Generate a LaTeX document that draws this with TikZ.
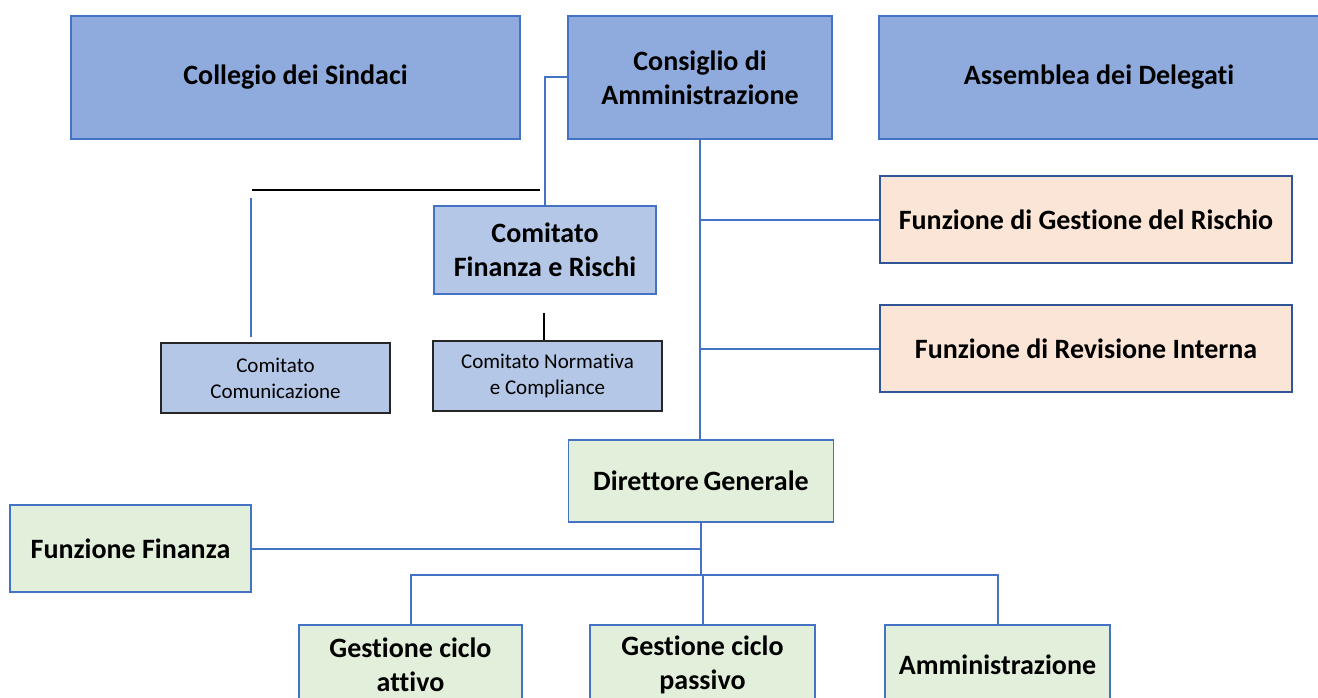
\documentclass[tikz,border=0pt]{standalone}
\usepackage{fontspec}
\setmainfont{Carlito}[Ligatures=NoCommon]
\usetikzlibrary{calc,positioning}
\definecolor{boardblue}{HTML}{8FAADC}
\definecolor{committee}{HTML}{B4C7E7}
\definecolor{control}{HTML}{FBE5D6}
\definecolor{staff}{HTML}{E2EFDA}
\definecolor{edgeblue}{HTML}{4472C4}
\definecolor{darkedge}{HTML}{2F5597}

\tikzset{
  box/.style={draw=edgeblue,line width=1.5pt,inner sep=0pt,align=center,
    font=\fontsize{28}{34}\selectfont\bfseries},
  board/.style={box,fill=boardblue,minimum height=123pt},
  comm/.style={box,fill=committee,minimum width=222pt,minimum height=88pt},
  subcomm/.style={box,draw=black!85,fill=committee,minimum width=229pt,minimum height=70pt,
    font=\fontsize{21}{26}\selectfont},
  ctrl/.style={box,draw=darkedge,fill=control,minimum width=412pt,minimum height=87pt},
  unit/.style={box,fill=staff,minimum height=82pt},
  link/.style={edgeblue,line width=2pt},
  tie/.style={black,line width=1.5pt}
}

\begin{document}
\begin{tikzpicture}[x=1pt,y=-1pt]
\clip (0,0) rectangle (1318,698);
\fill[white] (0,0) rectangle (1318,698);
% top row
\node[board,minimum width=449pt] (cds) at (295.5,77.5) {Collegio dei Sindaci};
\node[board,minimum width=264pt] (cda) at (700,77.5) {Consiglio di\\Amministrazione};
\node[board,minimum width=440pt] (add) at (1099,77.5) {Assemblea dei Delegati};
% committees
\node[comm] (cfr) at (545,250) {Comitato\\Finanza e Rischi};
\node[subcomm] (ccom) at (275.5,378) {Comitato\\Comunicazione};
\node[subcomm] (cnc) at (547.5,376) {Comitato Normativa\\e Compliance};
% control functions
\node[ctrl] (rischio) at (1086,219.5) {Funzione di Gestione del Rischio};
\node[ctrl] (revint) at (1086,348.5) {Funzione di Revisione Interna};
% operating units
\node[unit,minimum width=265pt] (dg) at (701,481) {Direttore\,Generale};
\node[unit,minimum width=241pt,minimum height=87pt] (ff) at (130.5,548.5) {Funzione Finanza};
\node[unit,minimum width=223pt,minimum height=80pt] (gca) at (410.5,665) {Gestione ciclo\\attivo};
\node[unit,minimum width=225pt,minimum height=80pt] (gcp) at (702.5,665) {Gestione ciclo\\passivo};
\node[unit,minimum width=225pt,minimum height=80pt] (amm) at (997.5,665) {Amministrazione};

\coordinate (t1) at (252,190);
\coordinate (t2) at (540,190);
\coordinate (v1) at (251,198);
\coordinate (v2) at (251,337);
\coordinate (s1) at (544,313);
\coordinate (s2) at (544,340);
\coordinate (fork) at (701,575);

\draw[link] (cda.west) -| (cfr.north);
\draw[tie] (t1) -- (t2);
\draw[link,line width=1.2pt] (v1) -- (v2);
\draw[tie] (s1) -- (s2);
\draw[link] (cda.south) -- (cda.south |- dg.north);
\draw[link] (rischio.west) -- (rischio.west -| cda.south);
\draw[link] (revint.west) -- (revint.west -| cda.south);
\draw[link] (dg.south) -- (fork);
\draw[link] (ff.east) -- (ff.east -| dg.south);
\draw[link] (gca.north) |- (fork) -| (amm.north);
\draw[link] (fork) -- (fork -| gcp.north) -- (gcp.north);
\end{tikzpicture}
\end{document}
